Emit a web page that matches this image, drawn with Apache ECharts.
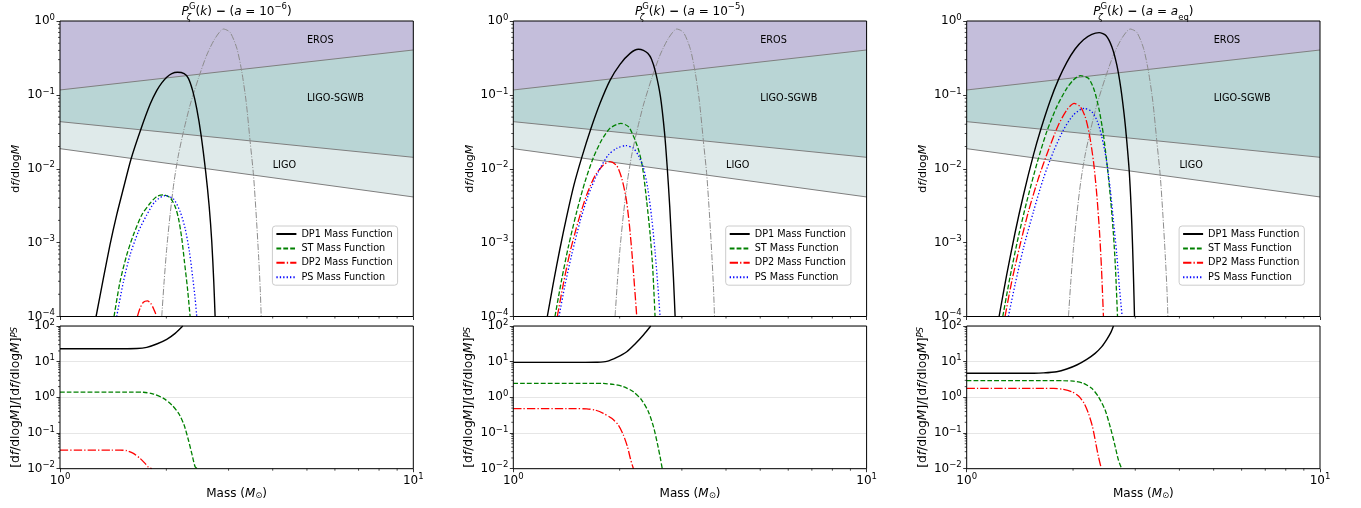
<!DOCTYPE html>
<html>
<head>
<meta charset="utf-8">
<script src="https://cdn.jsdelivr.net/npm/echarts@6/dist/echarts.min.js"></script>
<style>html,body{margin:0;padding:0;background:#fff}#chart{width:1361px;height:508px}</style>
</head>
<body>
<div id="chart"></div>
<script>
// ================= DATA =================
const panelNames = ['a6', 'a5', 'aeq'];
const seriesNames = ['DP1 Mass Function', 'ST Mass Function', 'DP2 Mass Function', 'PS Mass Function'];

// constraint band edges (lower boundary of each excluded region), [mass, df/dlogM]
const bandEdgeLIGO = [[1, 0.0187], [10, 0.00415]];
const bandEdgeSGWB = [[1, 0.0434], [10, 0.01429]];
const bandEdgeEROS = [[1, 0.1165], [10, 0.405]];
const bandLabelTexts = ['EROS', 'LIGO-SGWB', 'LIGO'];
const bandLabelAnchors = [[5.0, 0.55], [5.0, 0.089], [4.0, 0.0111]];

// grey dash-dot reference curve (same in every panel)
const grayRef = [[1.941,1e-4],[1.971,2.97e-4],[2.005,8.39e-4],[2.049,2.37e-3],[2.103,6.70e-3],[2.164,1.54e-2],[2.236,3.18e-2],[2.335,7.30e-2],[2.465,0.1675],[2.603,0.347],[2.748,0.582],[2.902,0.779],[3.030,0.703],[3.166,0.427],[3.270,0.206],[3.364,0.081],[3.453,0.0233],[3.529,8.24e-3],[3.592,2.37e-3],[3.647,6.82e-4],[3.687,2.41e-4],[3.711,1e-4]];

// ---- a = 1e-6 ----
const dp1_a6 = [[1.265,1e-4],[1.327,3.30e-4],[1.385,9.31e-4],[1.447,2.37e-3],[1.512,5.44e-3],[1.589,1.357e-2],[1.692,0.0338],[1.799,0.0746],[1.878,0.114],[1.941,0.1453],[2.005,0.173],[2.072,0.194],[2.150,0.202],[2.246,0.1938],[2.309,0.1675],[2.376,0.1125],[2.438,0.065],[2.508,0.0286],[2.586,0.00886],[2.643,3.15e-3],[2.689,1.03e-3],[2.724,2.97e-4],[2.748,1e-4]];
const st_a6 = [[1.422,1e-4],[1.479,2.97e-4],[1.545,6.82e-4],[1.613,1.27e-3],[1.704,2.37e-3],[1.799,3.41e-3],[1.878,4.20e-3],[1.962,4.42e-3],[2.049,4.07e-3],[2.118,3.07e-3],[2.164,2.14e-3],[2.211,1.15e-3],[2.250,5.54e-4],[2.295,2.41e-4],[2.335,1e-4]];
const dp2_a6 = [[1.656,1e-4],[1.685,1.29e-4],[1.722,1.56e-4],[1.768,1.63e-4],[1.806,1.51e-4],[1.846,1.23e-4],[1.878,1e-4]];
const ps_a6 = [[1.447,1e-4],[1.512,2.97e-4],[1.579,6.82e-4],[1.667,1.41e-3],[1.760,2.37e-3],[1.858,3.59e-3],[1.984,4.33e-3],[2.095,3.90e-3],[2.188,2.63e-3],[2.260,1.56e-3],[2.324,7.56e-4],[2.376,3.30e-4],[2.412,1.77e-4],[2.438,1e-4]];
const ratioDP1_a6 = [[1,23.1],[1.55,23.1],[1.65,23.3],[1.76,25.2],[1.878,31.3],[2.005,42.3],[2.118,62.2],[2.226,100]];
const ratioST_a6 = [[1,1.41],[1.6,1.41],[1.722,1.39],[1.839,1.24],[1.963,0.937],[2.073,0.61],[2.167,0.356],[2.245,0.1675],[2.309,0.0637],[2.360,0.0269],[2.412,0.0114],[2.45,0.01]];
const ratioDP2_a6 = [[1,0.0333],[1.4,0.0333],[1.479,0.0332],[1.545,0.032],[1.613,0.0269],[1.685,0.0195],[1.741,0.0141],[1.780,0.0109],[1.818,0.01]];

// ---- a = 1e-5 ----
const dp1_a5 = [[1.248,1e-4],[1.298,2.82e-4],[1.356,8.39e-4],[1.416,2.25e-3],[1.485,6.04e-3],[1.562,0.01415],[1.656,0.0342],[1.760,0.0769],[1.878,0.1574],[2.005,0.2593],[2.141,0.365],[2.260,0.414],[2.335,0.401],[2.402,0.365],[2.460,0.306],[2.525,0.206],[2.609,0.0946],[2.678,0.0318],[2.724,0.01125],[2.772,3.07e-3],[2.816,7.18e-4],[2.840,3.30e-4],[2.871,1e-4]];
const st_a5 = [[1.312,1e-4],[1.370,3.13e-4],[1.432,8.84e-4],[1.512,2.63e-3],[1.596,6.70e-3],[1.685,0.01415],[1.779,0.0245],[1.878,0.0353],[2.014,0.0412],[2.118,0.0372],[2.197,0.0264],[2.270,0.01706],[2.324,0.01015],[2.386,3.59e-3],[2.438,1.34e-3],[2.481,4.50e-4],[2.519,1e-4]];
const dp2_a5 = [[1.332,1e-4],[1.385,2.73e-4],[1.447,7.41e-4],[1.528,1.97e-3],[1.613,4.42e-3],[1.704,8.07e-3],[1.799,0.01125],[1.878,0.01249],[1.962,0.01102],[2.027,7.43e-3],[2.086,3.98e-3],[2.131,1.74e-3],[2.169,6.82e-4],[2.202,2.68e-4],[2.236,1e-4]];
const ps_a5 = [[1.347,1e-4],[1.401,2.68e-4],[1.463,6.82e-4],[1.545,1.93e-3],[1.631,4.42e-3],[1.741,9.14e-3],[1.858,0.01538],[1.962,0.0189],[2.081,0.0206],[2.188,0.0189],[2.260,0.01506],[2.335,0.01036],[2.402,5.44e-3],[2.465,2.14e-3],[2.519,7.56e-4],[2.564,2.68e-4],[2.603,1e-4]];
const ratioDP1_a5 = [[1,9.57],[1.6,9.57],[1.722,9.65],[1.839,10.2],[1.963,13.2],[2.095,19.0],[2.211,31.3],[2.335,56],[2.449,100]];
const ratioST_a5 = [[1,2.47],[1.7,2.47],[1.798,2.45],[1.919,2.31],[2.049,1.99],[2.187,1.44],[2.309,0.84],[2.412,0.396],[2.493,0.151],[2.557,0.0513],[2.603,0.0217],[2.64,0.01]];
const ratioDP2_a5 = [[1,0.481],[1.5,0.481],[1.613,0.475],[1.704,0.441],[1.798,0.356],[1.899,0.258],[1.983,0.1675],[2.049,0.0879],[2.104,0.0414],[2.150,0.0175],[2.188,0.01]];

// ---- a = a_eq ----
const dp1_aeq = [[1.235,1e-4],[1.298,3.69e-4],[1.370,1.35e-3],[1.447,4.38e-3],[1.545,0.01538],[1.621,0.0342],[1.722,0.0827],[1.818,0.1608],[1.920,0.2759],[2.027,0.418],[2.141,0.559],[2.260,0.660],[2.371,0.695],[2.481,0.633],[2.575,0.449],[2.660,0.254],[2.731,0.1227],[2.791,0.0535],[2.834,0.0258],[2.884,9.34e-3],[2.921,2.92e-3],[2.947,9.31e-4],[2.966,3.30e-4],[2.985,1e-4]];
const st_aeq = [[1.265,1e-4],[1.327,3.47e-4],[1.401,1.21e-3],[1.479,3.59e-3],[1.586,0.01249],[1.685,0.0318],[1.799,0.0693],[1.920,0.1227],[2.005,0.1591],[2.095,0.182],[2.211,0.1675],[2.295,0.1165],[2.371,0.0625],[2.438,0.0287],[2.503,0.01015],[2.558,3.59e-3],[2.603,1.27e-3],[2.637,4.50e-4],[2.672,1e-4]];
const dp2_aeq = [[1.284,1e-4],[1.341,2.97e-4],[1.416,9.31e-4],[1.495,2.63e-3],[1.596,7.43e-3],[1.704,0.01796],[1.818,0.0391],[1.920,0.0625],[2.014,0.0769],[2.095,0.0693],[2.164,0.0508],[2.226,0.0287],[2.285,0.01249],[2.335,4.42e-3],[2.376,1.41e-3],[2.407,4.50e-4],[2.438,1e-4]];
const ps_aeq = [[1.312,1e-4],[1.370,2.68e-4],[1.447,8.39e-4],[1.545,2.63e-3],[1.649,7.43e-3],[1.760,0.01706],[1.878,0.0335],[2.005,0.0535],[2.150,0.0658],[2.260,0.0593],[2.345,0.0434],[2.412,0.0272],[2.481,0.01385],[2.547,5.44e-3],[2.603,1.93e-3],[2.660,6.82e-4],[2.707,2.41e-4],[2.754,1e-4]];
const ratioDP1_aeq = [[1,4.75],[1.55,4.76],[1.649,4.85],[1.798,5.24],[1.919,6.23],[2.049,8.07],[2.187,11.6],[2.309,17.1],[2.412,26.4],[2.493,42.3],[2.557,65],[2.603,100]];
const ratioST_aeq = [[1,2.96],[1.75,2.96],[1.878,2.93],[2.005,2.85],[2.140,2.47],[2.259,1.79],[2.360,1.04],[2.465,0.44],[2.547,0.151],[2.619,0.0513],[2.688,0.0175],[2.745,0.01]];
const ratioDP2_aeq = [[1,1.79],[1.65,1.79],[1.760,1.78],[1.878,1.67],[1.984,1.44],[2.073,1.09],[2.150,0.68],[2.211,0.356],[2.270,0.151],[2.320,0.0513],[2.360,0.0217],[2.405,0.01]];

// axis ranges and tick values
const xRange = [1, 10];
const topYRange = [1e-4, 1];
const botYRange = [1e-2, 1e2];
const xMinorTicks = [2, 3, 4, 5, 6, 7, 8, 9];
const topYMinorTicks = [];
[-4, -3, -2, -1].forEach(e => { for (let k = 2; k <= 9; k++) topYMinorTicks.push(+(k * Math.pow(10, e)).toPrecision(3)); });
const botYMinorTicks = [];
[-2, -1, 0, 1].forEach(e => { for (let k = 2; k <= 9; k++) botYMinorTicks.push(+(k * Math.pow(10, e)).toPrecision(3)); });

// ================= STYLE / LAYOUT =================
const FONT = 'DejaVu Sans';
const panelLeft = [60, 513.3, 966.7];
const panelWidth = 353.3;
const topGrid = { top: 21, height: 295.5 };
const botGrid = { top: 326, height: 142.7 };
const bandColors = ['#dfeaea', '#b9d5d5', '#c4bedb'];

const curveData = {
  a6: [dp1_a6, st_a6, dp2_a6, ps_a6],
  a5: [dp1_a5, st_a5, dp2_a5, ps_a5],
  aeq: [dp1_aeq, st_aeq, dp2_aeq, ps_aeq]
};
const ratioData = {
  a6: [ratioDP1_a6, ratioST_a6, ratioDP2_a6],
  a5: [ratioDP1_a5, ratioST_a5, ratioDP2_a5],
  aeq: [ratioDP1_aeq, ratioST_aeq, ratioDP2_aeq]
};
const curveStyles = [
  { color: '#000000', width: 1.4, type: 'solid' },
  { color: '#008000', width: 1.3, type: [4.8, 2.1] },
  { color: '#ff0000', width: 1.3, type: [8.3, 2.1, 1.3, 2.1] },
  { color: '#0000ff', width: 1.3, type: [1.3, 2.1] }
];

const rich = {
  n: { fontFamily: FONT, fontSize: 12, color: '#000', fontWeight: 'normal', lineHeight: 20 },
  d: { fontFamily: FONT, fontSize: 12, color: '#000', fontWeight: 'bold', lineHeight: 20 },
  i: { fontFamily: FONT, fontSize: 12, color: '#000', fontWeight: 'normal', fontStyle: 'italic', lineHeight: 20 },
  sup: { fontFamily: FONT, fontSize: 8.5, color: '#000', fontWeight: 'normal', verticalAlign: 'top', lineHeight: 9 },
  subz: { fontFamily: FONT, fontSize: 8.5, color: '#000', fontWeight: 'normal', fontStyle: 'italic', verticalAlign: 'bottom', lineHeight: 9, width: 0.1 },
  sub: { fontFamily: FONT, fontSize: 8.5, color: '#000', fontWeight: 'normal', verticalAlign: 'bottom', lineHeight: 9 }
};
const titleHead = '{i|P}{subz|ζ}{sup|G}{n|(}{i|k}{n|) }{d|−}{n| (}{i|a}{n| = }';
const titleTexts = [
  titleHead + '{n|10}{sup|−6}{n|)}',
  titleHead + '{n|10}{sup|−5}{n|)}',
  titleHead + '{i|a}{sub|eq}{n|)}'
];

function pow10Label(v) {
  const e = Math.round(Math.log10(v));
  return '{b|10}{s|' + (e < 0 ? '\u2212' + (-e) : String(e)) + '}';
}
const tickRich = {
  b: { fontFamily: FONT, fontSize: 12, color: '#000', lineHeight: 16 },
  s: { fontFamily: FONT, fontSize: 8.5, color: '#000', verticalAlign: 'top', lineHeight: 9 }
};
function richWith(size) {
  return {
    n: { fontFamily: FONT, fontSize: size, color: '#000' },
    i: { fontFamily: FONT, fontSize: size, color: '#000', fontStyle: 'italic' },
    sup: { fontFamily: FONT, fontSize: size * 0.7, color: '#000', fontStyle: 'italic', verticalAlign: 'top', lineHeight: size * 0.8 },
    sub: { fontFamily: FONT, fontSize: size * 0.7, color: '#000', verticalAlign: 'bottom', lineHeight: size * 0.8 }
  };
}

// ================= BUILD OPTION =================
const grids = [], xAxes = [], yAxes = [], series = [], titles = [], legends = [];

function tickSeries(gi, xMin, yMin, isTop) {
  series.push({
    type: 'custom', coordinateSystem: 'cartesian2d', xAxisIndex: gi, yAxisIndex: gi, silent: true, z: 6,
    data: xMinorTicks.map(v => [v, yMin]), encode: { x: 0, y: 1 },
    renderItem: (params, api) => {
      const p = api.coord([api.value(0), api.value(1)]);
      return { type: 'line', shape: { x1: p[0], y1: p[1], x2: p[0], y2: p[1] + 2 }, style: { stroke: '#000', lineWidth: 0.7 } };
    }
  });
  series.push({
    type: 'custom', coordinateSystem: 'cartesian2d', xAxisIndex: gi, yAxisIndex: gi, silent: true, z: 6,
    data: (isTop ? topYMinorTicks : botYMinorTicks).map(v => [xMin, v]), encode: { x: 0, y: 1 },
    renderItem: (params, api) => {
      const p = api.coord([api.value(0), api.value(1)]);
      return { type: 'line', shape: { x1: p[0], y1: p[1], x2: p[0] - 2, y2: p[1] }, style: { stroke: '#000', lineWidth: 0.7 } };
    }
  });
}

function lineSeries(gi, name, data, st, z) {
  return {
    type: 'line', name: name, xAxisIndex: gi, yAxisIndex: gi, data: data,
    showSymbol: false, symbol: 'none', smooth: 0.25, clip: true, silent: true, z: z,
    lineStyle: { color: st.color, width: st.width, type: st.type }, itemStyle: { color: st.color }
  };
}

panelNames.forEach((pn, p) => {
  const gTop = p, gBot = p + 3;
  grids[gTop] = { left: panelLeft[p], width: panelWidth, top: topGrid.top, height: topGrid.height, show: true, z: 5, backgroundColor: 'transparent', borderColor: '#000', borderWidth: 1, containLabel: false };
  grids[gBot] = { left: panelLeft[p], width: panelWidth, top: botGrid.top, height: botGrid.height, show: true, z: 5, backgroundColor: 'transparent', borderColor: '#000', borderWidth: 1, containLabel: false };

  const axisTick = { show: true, inside: false, length: 3.5, lineStyle: { color: '#000', width: 0.8 } };
  xAxes[gTop] = { type: 'log', logBase: 10, gridIndex: gTop, min: xRange[0], max: xRange[1], interval: 1,
    axisLine: { show: false }, axisTick: axisTick, axisLabel: { show: false }, splitLine: { show: false } };
  xAxes[gBot] = { type: 'log', logBase: 10, gridIndex: gBot, min: xRange[0], max: xRange[1], interval: 1,
    axisLine: { show: false }, axisTick: axisTick,
    axisLabel: { show: true, margin: 4, formatter: pow10Label, rich: tickRich },
    splitLine: { show: false },
    name: '{n|Mass (}{i|M}{sub|⊙}{n|)}', nameLocation: 'middle', nameGap: 18,
    nameTextStyle: { rich: richWith(12) } };
  yAxes[gTop] = { type: 'log', logBase: 10, gridIndex: gTop, min: topYRange[0], max: topYRange[1], interval: 1,
    axisLine: { show: false }, axisTick: axisTick,
    axisLabel: { show: true, margin: 5, formatter: pow10Label, rich: tickRich },
    splitLine: { show: false },
    name: '{n|d}{i|f}{n|/dlog}{i|M}', nameLocation: 'middle', nameRotate: 90, nameGap: 38,
    nameTextStyle: { rich: richWith(11) } };
  yAxes[gBot] = { type: 'log', logBase: 10, gridIndex: gBot, min: botYRange[0], max: botYRange[1], interval: 1,
    axisLine: { show: false }, axisTick: axisTick,
    axisLabel: { show: true, margin: 5, formatter: pow10Label, rich: tickRich },
    splitLine: { show: true, lineStyle: { color: '#e6e6e6', width: 1 } },
    name: '{n|[d}{i|f}{n|/dlog}{i|M}{n|]/[d}{i|f}{n|/dlog}{i|M}{n|]}{sup|PS}', nameLocation: 'middle', nameRotate: 90, nameGap: 38,
    nameTextStyle: { rich: richWith(12.3) } };

  // constraint bands (filled polygons from the edge up to the top of the axis)
  const edges = [bandEdgeLIGO, bandEdgeSGWB, bandEdgeEROS];
  series.push({
    type: 'custom', coordinateSystem: 'cartesian2d', xAxisIndex: gTop, yAxisIndex: gTop, silent: true, z: 1, clip: true,
    data: edges.map(e => [e[0][0], e[0][1], e[1][0], e[1][1]]), encode: { x: [0, 2], y: [1, 3] },
    renderItem: (params, api) => {
      const a = api.coord([api.value(0), api.value(1)]);
      const b = api.coord([api.value(2), api.value(3)]);
      const c = api.coord([api.value(2), topYRange[1]]);
      const d = api.coord([api.value(0), topYRange[1]]);
      return { type: 'polygon', shape: { points: [a, b, c, d] }, style: { fill: bandColors[params.dataIndex] } };
    }
  });
  edges.forEach(e => series.push({
    type: 'line', xAxisIndex: gTop, yAxisIndex: gTop, data: e, showSymbol: false, symbol: 'none', silent: true, z: 2,
    lineStyle: { color: '#7f7f7f', width: 1 }
  }));
  series.push({
    type: 'custom', coordinateSystem: 'cartesian2d', xAxisIndex: gTop, yAxisIndex: gTop, silent: true, z: 3,
    data: bandLabelAnchors, encode: { x: 0, y: 1 },
    renderItem: (params, api) => {
      const pt = api.coord([api.value(0), api.value(1)]);
      return { type: 'text', x: pt[0], y: pt[1], style: { text: bandLabelTexts[params.dataIndex], fill: '#000', font: '9.7px "DejaVu Sans"', align: 'left', verticalAlign: 'middle' } };
    }
  });
  series.push({
    type: 'line', name: 'reference', xAxisIndex: gTop, yAxisIndex: gTop, data: grayRef, showSymbol: false, symbol: 'none',
    smooth: 0.25, silent: true, z: 3, lineStyle: { color: '#8c8c8c', width: 1, type: [6.4, 1.6, 1, 1.6] }
  });
  curveData[pn].forEach((d, k) => series.push(lineSeries(gTop, seriesNames[k], d, curveStyles[k], 4)));
  ratioData[pn].forEach((d, k) => series.push(lineSeries(gBot, seriesNames[k], d, curveStyles[k], 4)));

  tickSeries(gTop, xRange[0], topYRange[0], true);
  tickSeries(gBot, xRange[0], botYRange[0], false);

  titles.push({ text: titleTexts[p], left: panelLeft[p] + panelWidth / 2, top: 2, textAlign: 'center', padding: 0,
    textStyle: { fontWeight: 'normal', rich: rich } });
  legends.push({
    data: seriesNames, orient: 'vertical', left: panelLeft[p] + 212.4, top: 226,
    itemWidth: 20, itemHeight: 10, itemGap: 4.4, padding: [3, 5, 3, 3],
    itemStyle: { opacity: 0, borderWidth: 0 },
    backgroundColor: 'rgba(255,255,255,0.8)', borderColor: '#cccccc', borderWidth: 1, borderRadius: 3,
    textStyle: { fontFamily: FONT, fontSize: 9.7, color: '#000' }, selectedMode: false, z: 8
  });
});

const chart = echarts.init(document.getElementById('chart'), null, { renderer: 'canvas' });
chart.setOption({
  animation: false,
  backgroundColor: '#ffffff',
  textStyle: { fontFamily: FONT },
  title: titles,
  legend: legends,
  grid: grids,
  xAxis: xAxes,
  yAxis: yAxes,
  series: series
});
</script>
</body>
</html>
